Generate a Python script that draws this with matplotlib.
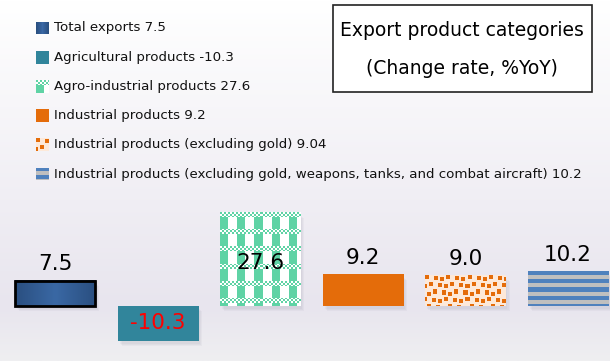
import matplotlib

matplotlib.use("Agg")
import matplotlib.pyplot as plt
import numpy as np
from matplotlib.colors import to_rgb
from matplotlib.patches import Rectangle

# --- data ---------------------------------------------------------------
categories = [
    "Total exports",
    "Agricultural products",
    "Agro-industrial products",
    "Industrial products",
    "Industrial products (excluding gold)",
    "Industrial products (excluding gold, weapons, tanks, and combat aircraft)",
]
values = [7.5, -10.3, 27.6, 9.2, 9.04, 10.2]
styles = ["gradient", "solid", "checker", "solid", "squares", "stripes"]
colors = ["#3a68a4", "#31859b", "#5fd3a5", "#e46c0a", "#e46c0a", "#4f81bd"]
title_lines = ["Export product categories", "(Change rate, %YoY)"]

W, H = 610, 361


def pattern(style, color, w, h):
    """RGB texture of w x h pixels for a fill style."""
    c = np.array(to_rgb(color))
    yy, xx = np.mgrid[0:h, 0:w]
    img = np.ones((h, w, 3))
    if style == "solid":
        img[:] = c
    elif style == "gradient":
        t = np.abs(np.linspace(-1, 1, w))[None, :] * np.ones((h, 1))
        dark = np.array(to_rgb("#2a4f80"))
        img = c * (1 - t[..., None]) + dark * t[..., None]
    elif style == "checker":
        r = yy % 17
        band = r < 5
        small = ((xx // 2 + yy // 2) % 2 == 0)
        big = (xx % 17) < 8
        mask = np.where(band, small, big)
        img[mask] = c
    elif style == "squares":
        img[:] = to_rgb("#fde9d9")
        row = yy // 7
        xs = xx + (row * 3) % 7
        col = xs // 7
        jx = (col * 2 + row) % 3
        jy = (col + row * 2) % 3
        u = xs % 7 - jx
        v = yy % 7 - jy
        mask = (u >= 0) & (u < 4) & (v >= 0) & (v < 4)
        img[mask] = c
    elif style == "stripes":
        img[:] = to_rgb("#bfbfbf")
        img[(yy % 8) < 4] = c
    return img


fig = plt.figure(figsize=(W / 100, H / 100), dpi=100)

# background gradient
bg = fig.add_axes([0, 0, 1, 1])
bg.set_axis_off()
grad = np.linspace(0, 1, 256)[:, None]
top, mid, bot = (np.array(to_rgb(c)) for c in ("#ffffff", "#e8e5ee", "#efeff1"))
shade = np.where(grad < 0.85, grad / 0.85, 1.0)
img = top * (1 - shade[..., None]) + mid * shade[..., None]
tail = np.clip((grad - 0.85) / 0.15, 0, 1)
img = img * (1 - tail[..., None]) + bot * tail[..., None]
bg.imshow(img, aspect="auto", extent=[0, 1, 0, 1])

ax = fig.add_axes([0, 0, 1, 1])
ax.patch.set_alpha(0)
ax.set_xlim(-0.536, 5.409)
ax.set_ylim(-16.3, 90.8)
ax.set_axis_off()

x = np.arange(len(values))
bars = ax.bar(x, values, width=0.78, color="none", linewidth=0, zorder=3)

for bar, style, color in zip(bars, styles, colors):
    x0, y0 = bar.get_x(), bar.get_y()
    bw, bh = bar.get_width(), bar.get_height()
    # soft drop shadow
    for k, a in enumerate([0.05, 0.05, 0.05]):
        ax.add_patch(Rectangle((x0 + 0.02 + 0.01 * k, y0 - 1.0 - 0.3 * k), bw, bh,
                               facecolor="#6a6a80", alpha=a, linewidth=0, zorder=1))
    (px0, py0), (px1, py1) = ax.transData.transform([(x0, min(y0, y0 + bh)),
                                                     (x0 + bw, max(y0, y0 + bh))])
    tex = pattern(style, color, int(round(px1 - px0)), int(round(py1 - py0)))
    ax.imshow(tex, extent=[x0, x0 + bw, min(y0, y0 + bh), max(y0, y0 + bh)],
              aspect="auto", interpolation="nearest", zorder=2)
    if style == "gradient":
        bar.set_edgecolor("black")
        bar.set_linewidth(2)

# value labels
for bar, v in zip(bars, values):
    cx = bar.get_x() + bar.get_width() / 2
    if v < 0:
        ax.text(cx, v / 2, f"{v:.1f}", ha="center", va="center",
                fontsize=15.5, color="red", zorder=5)
    elif v > 20:
        ax.text(cx, v * 0.46, f"{v:.1f}", ha="center", va="center",
                fontsize=15.5, color="black", zorder=5)
    else:
        ax.annotate(f"{v:.1f}", (cx, v), xytext=(0, 5), textcoords="offset points",
                    ha="center", va="bottom", fontsize=15.5, color="black", zorder=5)

# legend (manual, patterned swatches)
for i, (name, v, style, color) in enumerate(zip(categories, values, styles, colors)):
    yc = 28 + i * 29.2
    sw = fig.add_axes([36 / W, 1 - (yc + 6.5) / H, 13 / W, 13 / H])
    sw.imshow(pattern(style, color, 13, 13), aspect="auto", interpolation="nearest")
    sw.set_axis_off()
    fig.text(54 / W, 1 - yc / H, f"{name} {v:g}", ha="left", va="center",
             fontsize=9.6, color="#111111")

# title box
fig.patches.append(Rectangle((333 / W, 1 - 92 / H), 259 / W, 87 / H,
                             transform=fig.transFigure, facecolor="white",
                             edgecolor="#222222", linewidth=1.2))
for j, line in enumerate(title_lines):
    fig.text(462 / W, 1 - (30 + 38 * j) / H, line, ha="center", va="center",
             fontsize=13.5, color="black")

fig.savefig("out.png", dpi=100)
